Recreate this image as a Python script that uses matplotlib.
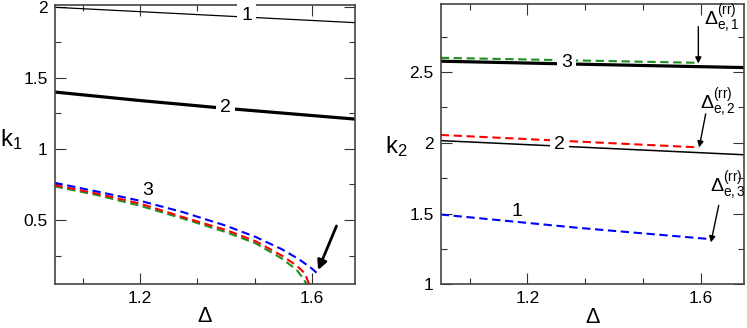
import matplotlib
matplotlib.use('Agg')
import matplotlib.pyplot as plt
from matplotlib.ticker import MultipleLocator, AutoMinorLocator, FuncFormatter

plt.rcParams['font.family'] = ['Liberation Sans', 'DejaVu Sans']
plt.rcParams['mathtext.fontset'] = 'custom'
plt.rcParams['mathtext.rm'] = 'Liberation Sans'
plt.rcParams['mathtext.it'] = 'Liberation Sans'
plt.rcParams['mathtext.default'] = 'regular'

# ---------------------------------------------------------
# Data
# ---------------------------------------------------------
# left panel: k1 vs Delta
k1_b1_delta = [1.0, 1.7]
k1_b1 = [1.996, 1.888]
k1_b2_delta = [1.0, 1.2, 1.4, 1.7]
k1_b2 = [1.40, 1.34, 1.285, 1.21]

k1_blue_delta = [1.0, 1.1, 1.2, 1.3, 1.4, 1.47, 1.53, 1.57, 1.6, 1.613]
k1_blue = [0.762, 0.70, 0.635, 0.555, 0.46, 0.38, 0.295, 0.225, 0.16, 0.125]
k1_red_delta = [1.0, 1.1, 1.2, 1.3, 1.4, 1.47, 1.53, 1.565, 1.584, 1.594]
k1_red = [0.746, 0.685, 0.615, 0.52, 0.43, 0.35, 0.25, 0.18, 0.125, 0.05]
k1_green_delta = [1.0, 1.1, 1.2, 1.3, 1.4, 1.47, 1.53, 1.565, 1.58, 1.588]
k1_green = [0.737, 0.675, 0.60, 0.51, 0.415, 0.335, 0.23, 0.15, 0.09, 0.05]

# right panel: k2 vs Delta
k2_b3_delta = [1.0, 1.35, 1.7]
k2_b3 = [2.576, 2.553, 2.531]
k2_green_delta = [1.0, 1.588]
k2_green = [2.600, 2.565]
k2_red_delta = [1.0, 1.596]
k2_red = [2.055, 1.967]
k2_b2_delta = [1.0, 1.7]
k2_b2 = [2.015, 1.915]
k2_blue_delta = [1.0, 1.32, 1.619]
k2_blue = [1.493, 1.398, 1.32]

GREEN = '#1f8f1f'
dash = (4, 2.2)


def style(ax, ylim):
    ax.set_xlim(1.0, 1.7)
    ax.set_ylim(*ylim)
    ax.xaxis.set_major_locator(MultipleLocator(0.4))
    ax.xaxis.set_minor_locator(AutoMinorLocator(3))
    ax.yaxis.set_major_locator(MultipleLocator(0.5))
    ax.yaxis.set_minor_locator(AutoMinorLocator(2))
    fmt = FuncFormatter(lambda v, p: f'{v:g}')
    ax.xaxis.set_major_formatter(fmt)
    ax.yaxis.set_major_formatter(fmt)
    ax.tick_params(which='both', direction='in', top=True, right=True,
                   labelsize=12.5, width=0.8, color='#333333')
    ax.tick_params(which='major', length=8, pad=5)
    ax.tick_params(which='minor', length=4)
    for s in ax.spines.values():
        s.set_linewidth(1.2)
        s.set_color('#444444')


fig = plt.figure(figsize=(7.47, 3.28), dpi=100)
ax1 = fig.add_axes([54.5 / 747, 1 - 284 / 328, 300 / 747, 279 / 328])
ax2 = fig.add_axes([440.7 / 747, 1 - 284.3 / 328, 303.6 / 747, 280.3 / 328])

# ---- left panel ----
style(ax1, (0.05, 2.012))
ax1.plot(k1_b1_delta, k1_b1, color='black', lw=0.9)
ax1.plot(k1_b2_delta, k1_b2, color='black', lw=2.3)
ax1.plot(k1_green_delta, k1_green, color=GREEN, lw=1.5, dashes=dash)
ax1.plot(k1_red_delta, k1_red, color='red', lw=1.5, dashes=dash)
ax1.plot(k1_blue_delta, k1_blue, color='blue', lw=1.5, dashes=dash)

box = dict(facecolor='white', edgecolor='none', pad=3)
ax1.text(1.449, 1.935, '1', fontsize=14, ha='center', va='center', bbox=box, zorder=4)
ax1.text(1.40, 1.29, '2', fontsize=14, ha='center', va='center', bbox=box, zorder=4)
ax1.text(1.218, 0.71, '3', fontsize=14, ha='center', va='center', zorder=4)
ax1.annotate('', xy=(1.615, 0.148), xytext=(1.658, 0.458),
             arrowprops=dict(arrowstyle='-|>', lw=2, color='black',
                             mutation_scale=14, shrinkA=0, shrinkB=0))

ax1.set_xlabel('Δ', fontsize=15.5, va='bottom')
ax1.xaxis.set_label_coords(0.5, -0.155)
ax1.set_ylabel('k$_1$', fontsize=17, rotation=0, ha='center', va='center')
ax1.yaxis.set_label_coords(-0.145, 0.516)

# ---- right panel ----
style(ax2, (1.0, 2.98))
ax2.plot(k2_b3_delta, k2_b3, color='black', lw=2.3)
ax2.plot(k2_green_delta, k2_green, color=GREEN, lw=1.5, dashes=dash)
ax2.plot(k2_b2_delta, k2_b2, color='black', lw=1.1)
ax2.plot(k2_red_delta, k2_red, color='red', lw=1.5, dashes=dash)
ax2.plot(k2_blue_delta, k2_blue, color='blue', lw=1.5, dashes=dash)

ax2.text(1.29, 2.567, '3', fontsize=14, ha='center', va='center', bbox=box, zorder=4)
ax2.text(1.274, 1.99, '2', fontsize=14, ha='center', va='center', bbox=box, zorder=4)
ax2.text(1.175, 1.516, '1', fontsize=14, ha='center', va='center', zorder=4)

arr = dict(arrowstyle='-|>', lw=1.0, color='black', mutation_scale=9, shrinkA=0, shrinkB=0)
ax2.annotate('', xy=(1.594, 2.56), xytext=(1.594, 2.82), arrowprops=arr)
ax2.annotate('', xy=(1.596, 1.967), xytext=(1.611, 2.204), arrowprops=arr)
ax2.annotate('', xy=(1.623, 1.296), xytext=(1.641, 1.557), arrowprops=arr)
ax2.text(1.606, 2.83, r'$\Delta^{(rr)}_{e,1}$', fontsize=14, ha='left', va='baseline')
ax2.text(1.599, 2.24, r'$\Delta^{(rr)}_{e,2}$', fontsize=14, ha='left', va='baseline')
ax2.text(1.622, 1.65, r'$\Delta^{(rr)}_{e,3}$', fontsize=14, ha='left', va='baseline')

ax2.set_xlabel('Δ', fontsize=15.5, va='bottom')
ax2.xaxis.set_label_coords(0.5, -0.155)
ax2.set_ylabel('k$_2$', fontsize=17, rotation=0, ha='center', va='center')
ax2.yaxis.set_label_coords(-0.148, 0.493)

fig.savefig('out.png', dpi=100)
